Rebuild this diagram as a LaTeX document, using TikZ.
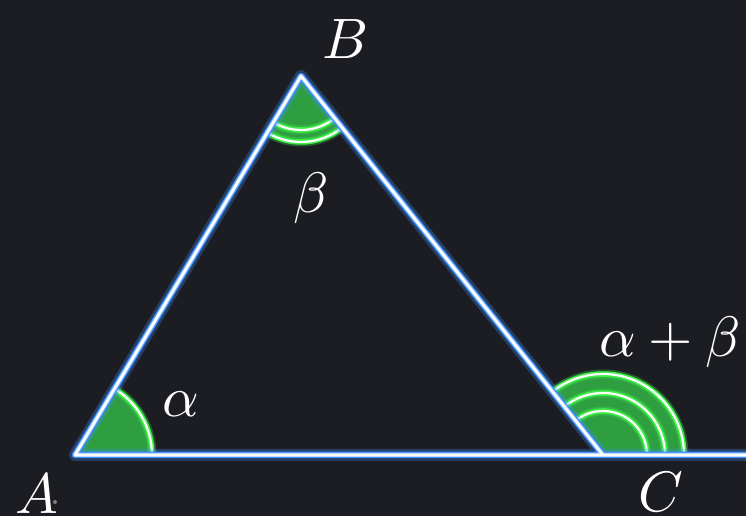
\documentclass[tikz,border=0pt]{standalone}
\definecolor{bg}{RGB}{27,29,35}
\definecolor{edge}{RGB}{62,142,255}
\definecolor{edgelight}{RGB}{160,205,255}
\definecolor{angfill}{RGB}{46,158,64}
\definecolor{angglow}{RGB}{62,235,72}
\usetikzlibrary{calc}

\begin{document}
\begin{tikzpicture}[x=1pt, y=1pt,
        lbl/.style={text=white, scale=5.7, inner sep=0pt},
        edgewide/.style={edge, line width=12pt, opacity=0.3, line join=round, line cap=round},
        edgeglow/.style={edge, line width=6.5pt, line join=round, line cap=round},
        edgemid/.style={edgelight, line width=4pt, line join=round, line cap=round},
        edgecore/.style={white, line width=2.6pt, line join=round, line cap=round},
        sector/.style={fill=angfill},
        arcwide/.style={angglow, line width=9pt, opacity=0.3},
        arcglow/.style={angglow, line width=5.5pt},
        arccore/.style={white, line width=2.2pt}
    ]
        \fill[bg] (0,0) rectangle (746,516);
        \useasboundingbox (0,0) rectangle (746,516);
        \coordinate (A) at (75,61);
        \coordinate (B) at (301,440);
        \coordinate (C) at (603,61);
        \coordinate (E) at (752,61);
        % angle sectors
        \fill[sector] (A) -- ++(0:77) arc[start angle=0, end angle=59.2, radius=77pt] -- cycle;
        \fill[sector] (B) -- ++(239.2:66) arc[start angle=239.2, end angle=308.55, radius=66pt] -- cycle;
        \fill[sector] (C) -- ++(0:81) arc[start angle=0, end angle=128.55, radius=81pt] -- cycle;
        \foreach \s in {arcwide, arcglow, arccore} {
            \draw[\s] ($(A)+(0:77)$) arc[start angle=0, end angle=59.2, radius=77pt];
            \foreach \r in {54,66}
                \draw[\s] ($(B)+(239.2:\r)$) arc[start angle=239.2, end angle=308.55, radius=\r pt];
            \foreach \r in {44,62,81}
                \draw[\s] ($(C)+(0:\r)$) arc[start angle=0, end angle=128.55, radius=\r pt];
        }
        % triangle
        \foreach \s in {edgewide, edgeglow, edgemid, edgecore}
            \draw[\s] (E) -- (A) -- (B) -- (C);
        % labels
        \node[lbl] (labA) at (37,22) {$A$};
        \fill[gray] (55,14) circle (2);
        \node[lbl] (labB) at (346,477) {$B$};
        \node[lbl] (labC) at (661,24) {$C$};
        \node[lbl] (alpha) at (181,112) {$\alpha$};
        \node[lbl] (beta) at (311,318) {$\beta$};
        \node[lbl] (ab) at (670,174) {$\alpha+\beta$};
    \end{tikzpicture}
\end{document}
